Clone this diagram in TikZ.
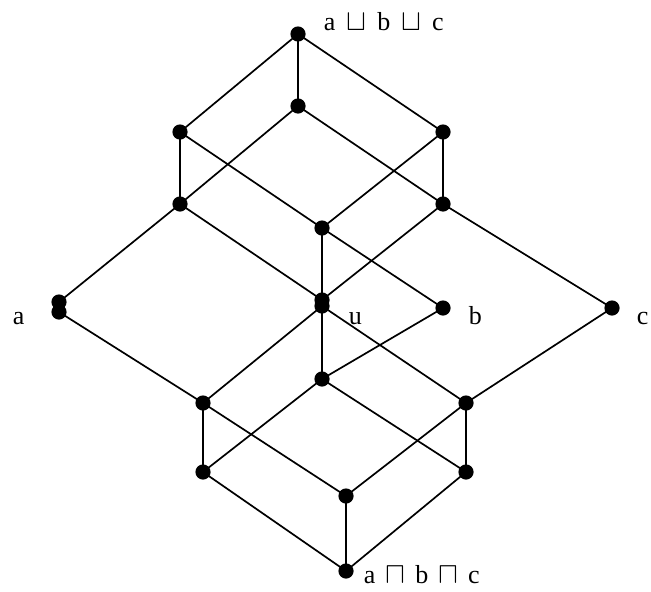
\documentclass[tikz,border=0pt]{standalone}
\usepackage{fontspec}
\setmainfont{Liberation Serif}
\usetikzlibrary{calc, positioning}

\begin{document}
\begin{tikzpicture}[x=1pt, y=-1pt, line width=1.7pt]
\useasboundingbox (0,0) rectangle (651,592);
\tikzset{lbl/.style={inner sep=0pt, font=\fontsize{26}{30}\selectfont}}
\newcommand{\opjoin}{\scalebox{1.2}{$\sqcup$}}
\newcommand{\opmeet}{\scalebox{1.2}{$\sqcap$}}

% vertices
\coordinate (T)  at (298,34);
\coordinate (P)  at (298,106);
\coordinate (L1) at (180,132);
\coordinate (R1) at (443,132);
\coordinate (L2) at (180,204);
\coordinate (R2) at (443,204);
\coordinate (M)  at (322,228);
\coordinate (A1) at (59,302);
\coordinate (A2) at (59,312);
\coordinate (U1) at (322,300);
\coordinate (U2) at (322,306);
\coordinate (Bv) at (443,308);
\coordinate (C)  at (612,308);
\coordinate (D)  at (322,379);
\coordinate (L3) at (203,403);
\coordinate (R3) at (466,403);
\coordinate (L4) at (203,472);
\coordinate (R4) at (466,472);
\coordinate (B2) at (346,496);
\coordinate (Bot) at (346,571);

% upper part
\draw (T) -- (P) (T) -- (L1) (T) -- (R1);
\draw (L1) -- (L2) (L1) -- (M) (R1) -- (R2) (R1) -- (M);
\draw (P) -- (L2) (P) -- (R2);
\draw (L2) -- (A1) (L2) -- (U1) (R2) -- (C) (R2) -- (U1);
\draw (M) -- (U1) (M) -- (Bv);

% lower part
\draw (A2) -- (L3) (U2) -- (L3) (U2) -- (R3) (U2) -- (D);
\draw (Bv) -- (D) (C) -- (R3);
\draw (D) -- (L4) (D) -- (R4);
\draw (L3) -- (L4) (L3) -- (B2) (R3) -- (R4) (R3) -- (B2);
\draw (L4) -- (Bot) (R4) -- (Bot) (B2) -- (Bot);

\foreach \v in {T,P,L1,R1,L2,R2,M,A1,A2,U1,U2,Bv,C,D,L3,R3,L4,R4,B2,Bot}
  \fill (\v) circle (7.6);

\node[lbl, anchor=base west] (lbltop) at (323,30)
  {a\hspace{11pt}\opjoin\hspace{11pt}b\hspace{11pt}\opjoin\hspace{11pt}c};
\node[lbl, anchor=base west] (lblbot) at (363,583)
  {a\hspace{10pt}\opmeet\hspace{10pt}b\hspace{10pt}\opmeet\hspace{10pt}c};
\node[lbl, anchor=base west] (lbla) at (12,324) {a};
\node[lbl, anchor=base west] (lblu) at (348,324) {u};
\node[lbl, anchor=base west] (lblb) at (468,324) {b};
\node[lbl, anchor=base west] (lblc) at (636,324) {c};
\end{tikzpicture}
\end{document}
